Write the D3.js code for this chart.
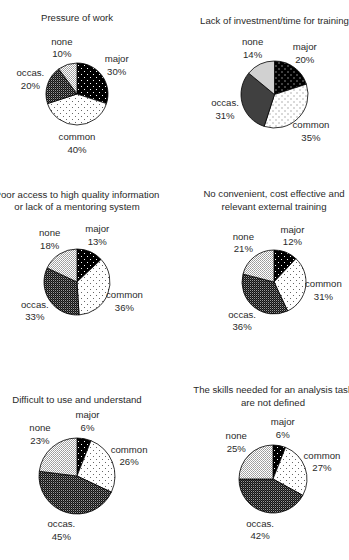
<!DOCTYPE html>
<html>
<head>
<meta charset="utf-8">
<script src="https://cdn.jsdelivr.net/npm/d3@7"></script>
<style>
body { margin: 0; background: #fff; }
svg text { font-family: "Liberation Sans", Arial, sans-serif; font-size: 9.6px; fill: #2a2a2a; }
</style>
</head>
<body>
<div id="chart"></div>
<script>
// answer categories, same order in every pie (clockwise from 12 o'clock)
var categories = ["major", "common", "occas.", "none"];

var titles = [
	["Pressure of work"],
	["Lack of investment/time for training"],
	["Poor access to high quality information", "or lack of a mentoring system"],
	["No convenient, cost effective and", "relevant external training"],
	["Difficult to use and understand"],
	["The skills needed for an analysis task", "are not defined"]
];

var pressureValues = [30, 40, 20, 10];
var investmentValues = [20, 35, 31, 14];
var accessValues = [13, 36, 33, 18];
var externalValues = [12, 31, 36, 21];
var difficultValues = [6, 26, 45, 23];
var skillsValues = [6, 27, 42, 25];

var allValues = [pressureValues, investmentValues, accessValues, externalValues, difficultValues, skillsValues];

// where each pie sits on the page
var layout = [
	{cx: 77,  cy: 94,  r: 31,   titleY: 21},
	{cx: 274.5, cy: 94.5, r: 33.5, titleY: 23.5},
	{cx: 77,  cy: 282, r: 33,   titleY: 197.5},
	{cx: 274, cy: 282, r: 32,   titleY: 197},
	{cx: 77,  cy: 476, r: 38,   titleY: 402.5},
	{cx: 273, cy: 479, r: 34,   titleY: 393}
];

var w = 349, h = 560;
var lineH = 12.5;

var svg = d3.select("#chart").append("svg")
	.attr("width", w)
	.attr("height", h);

var defs = svg.append("defs");

function addPattern(id, size, bg, dots) {
	var p = defs.append("pattern")
		.attr("id", id)
		.attr("patternUnits", "userSpaceOnUse")
		.attr("width", size)
		.attr("height", size);
	p.append("rect").attr("width", size).attr("height", size).attr("fill", bg);
	dots.forEach(function(d) {
		p.append("rect").attr("x", d[0]).attr("y", d[1]).attr("width", 1).attr("height", 1).attr("fill", d[2]);
	});
}

addPattern("pat-major", 6, "#000", [[1, 1, "#fff"], [4, 4, "#fff"]]);
addPattern("pat-common", 6, "#fff", [[1, 1, "#666"], [4, 4, "#666"]]);
addPattern("pat-occas", 2, "#111", [[0, 0, "#9a9a9a"], [1, 1, "#444"]]);
addPattern("pat-none", 2, "#fff", [[0, 0, "#9a9a9a"], [1, 1, "#aaa"]]);

var fillScale = d3.scaleOrdinal()
	.domain(categories)
	.range(["url(#pat-major)", "url(#pat-common)", "url(#pat-occas)", "url(#pat-none)"]);

var pie = d3.pie().sort(null).value(function(d) { return d.value; });

allValues.forEach(function(values, i) {
	var L = layout[i];
	var data = categories.map(function(c, j) { return {name: c, value: values[j]}; });

	// title
	var t = svg.append("text")
		.attr("text-anchor", "middle")
		.attr("x", L.cx)
		.attr("y", L.titleY);
	titles[i].forEach(function(line, k) {
		t.append("tspan").attr("x", L.cx).attr("dy", k == 0 ? 0 : lineH).text(line);
	});

	var g = svg.append("g")
		.attr("transform", "translate(" + L.cx + "," + L.cy + ")");

	var arc = d3.arc().innerRadius(0).outerRadius(L.r);

	g.selectAll("path")
		.data(pie(data))
		.enter().append("path")
		.attr("d", arc)
		.attr("fill", function(d) { return fillScale(d.data.name); })
		.attr("stroke", "#000")
		.attr("stroke-width", 0.8);

	var labelR = L.r + 18;
	var labels = g.selectAll("text.lbl")
		.data(pie(data))
		.enter().append("text")
		.attr("class", "lbl")
		.attr("text-anchor", "middle")
		.attr("transform", function(d) {
			var a = (d.startAngle + d.endAngle) / 2;
			return "translate(" + (Math.sin(a) * labelR) + "," + (-Math.cos(a) * labelR) + ")";
		});
	labels.append("tspan").attr("x", 0).attr("y", -2.75).text(function(d) { return d.data.name; });
	labels.append("tspan").attr("x", 0).attr("y", 9.75).text(function(d) { return d.data.value + "%"; });
});
</script>
</body>
</html>
